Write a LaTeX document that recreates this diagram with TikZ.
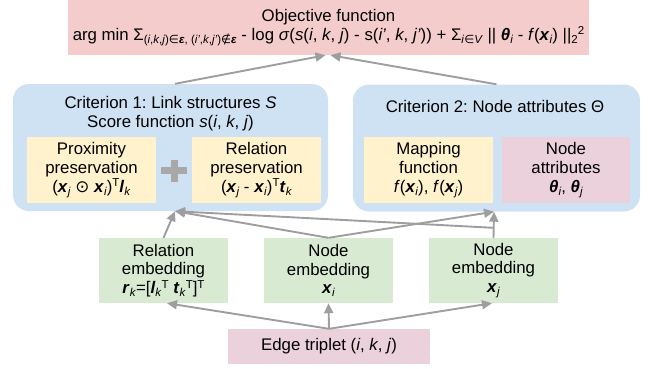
\documentclass[tikz,border=0pt]{standalone}
\usepackage{fontspec}
\setmainfont{Liberation Sans}
\newfontfamily\symfont{DejaVu Sans}
\usetikzlibrary{arrows.meta,calc}
\frenchspacing

\definecolor{objpink}{HTML}{F4CCCC}
\definecolor{critblue}{HTML}{CFE2F3}
\definecolor{termyellow}{HTML}{FFF2CC}
\definecolor{attrpink}{HTML}{EAD1DC}
\definecolor{embgreen}{HTML}{D9EAD3}
\definecolor{linkgray}{HTML}{9E9E9E}
\definecolor{plusgray}{HTML}{A8A8A8}

\newcommand\bx[1]{\textbf{\textit{#1}}}
\newcommand\sub[1]{\raisebox{-0.35ex}{\fontsize{11.5}{11}\selectfont #1}}
\newcommand\supr[1]{\raisebox{0.6ex}{\fontsize{11.5}{11}\selectfont #1}}
\newcommand\sym[1]{{\symfont #1}}

\tikzset{
  txt/.style={font=\fontsize{16.8}{18.8}\selectfont, align=center, inner sep=0pt},
  box/.style={txt, minimum width=#1, minimum height=66pt, draw=none},
  crit/.style={fill=critblue, rounded corners=16pt, draw=none, inner sep=0pt},
  link/.style={draw=linkgray, line width=1.9pt, -{Triangle[length=10pt,width=9pt]}},
}

\begin{document}
\begin{tikzpicture}[x=1pt, y=-1pt]
\useasboundingbox (0,0) rectangle (651,368);

% objective
\node[txt, fill=objpink, minimum width=521pt, minimum height=55pt] (obj) at (328.5,27.5)
  {Objective function\\
   arg min Σ\sub{(\textit{i},\textit{k},\textit{j})\sym{∈}\bx{ε}, (\textit{i'},\textit{k},\textit{j'})\sym{∉}\bx{ε}}
   - log \textit{σ}(\textit{s}(\textit{i}, \textit{k}, \textit{j}) - s(\textit{i'}, \textit{k}, \textit{j'}))
   + Σ\sub{\textit{i}\sym{∈}\textit{V}} || \bx{θ}\sub{\textit{i}} - \textit{f}(\bx{x}\sub{\textit{i}}) ||\sub{2}\supr{2}};

% criterion containers
\node[crit, minimum width=315pt, minimum height=127pt] (crit1) at (170.5,147.5) {};
\node[crit, minimum width=287pt, minimum height=127pt] (crit2) at (496.5,148) {};
\node[txt] (crit1title) at (170.5,113.5)
  {Criterion 1: Link structures \textit{S}\\Score function \textit{s}(\textit{i}, \textit{k}, \textit{j})};
\node[txt] (crit2title) at (495,106) {Criterion 2: Node attributes Θ};

% terms inside the criteria
\node[box=129pt, fill=termyellow] (prox) at (91.5,170)
  {Proximity\\preservation\\(\bx{x}\sub{\textit{j}} \sym{⊙} \bx{x}\sub{\textit{i}})\supr{T}\bx{l}\sub{\textit{k}}};
\node[box=129pt, fill=termyellow] (relp) at (256.5,170)
  {Relation\\preservation\\(\bx{x}\sub{\textit{j}} - \bx{x}\sub{\textit{i}})\supr{T}\bx{t}\sub{\textit{k}}};
\node[box=129pt, fill=termyellow] (mapf) at (428.5,170)
  {Mapping\\function\\\textit{f}(\bx{x}\sub{\textit{i}}), \textit{f}(\bx{x}\sub{\textit{j}})};
\node[box=128pt, fill=attrpink] (attr) at (566,170)
  {Node\\attributes\\\bx{θ}\sub{\textit{i}}, \bx{θ}\sub{\textit{j}}};

% plus sign between the two scores
\fill[plusgray] (161,167) rectangle (187,174);
\fill[plusgray] (170.5,159.5) rectangle (178,181.5);

% embeddings
\node[box=129pt, minimum height=65pt, fill=embgreen] (remb) at (163.5,270.5)
  {Relation\\embedding\\\bx{r}\sub{\textit{k}}=[\bx{l}\sub{\textit{k}}\supr{T} \bx{t}\sub{\textit{k}}\supr{T}]\supr{T}};
\node[box=129pt, minimum height=65pt, fill=embgreen] (xi) at (328.5,270.5)
  {Node\\embedding\\\bx{x}\sub{\textit{i}}};
\node[box=129pt, minimum height=65pt, fill=embgreen] (xj) at (493.5,270.5)
  {Node\\embedding\\\bx{x}\sub{\textit{j}}};

% input
\node[txt, fill=attrpink, minimum width=202pt, minimum height=35pt] (edge) at (329,346.5)
  {Edge triplet (\textit{i}, \textit{k}, \textit{j})};

% connectors
\draw[link] ([xshift=4.5pt]crit1.north) -- ([xshift=-3pt]obj.south);
\draw[link] (crit2.north) -- ([xshift=2pt]obj.south);

\draw[link] (remb.north) -- ([xshift=4.5pt]crit1.south);
\draw[link] (xi.north) -- ([xshift=4.5pt]crit1.south);
\draw[link] ([yshift=10pt]xj.north) -- ([xshift=4.5pt]crit1.south);
\draw[link] (xi.north) -- ([xshift=-2.5pt]crit2.south);
\draw[link] (xj.north) -- ([xshift=-2.5pt]crit2.south);

\draw[link] (edge.north) -- (xi.south);
\draw[link] (edge.north) -- ([xshift=3.5pt]remb.south);
\draw[link] (edge.north) -- ([xshift=-1.5pt]xj.south);
\end{tikzpicture}
\end{document}
